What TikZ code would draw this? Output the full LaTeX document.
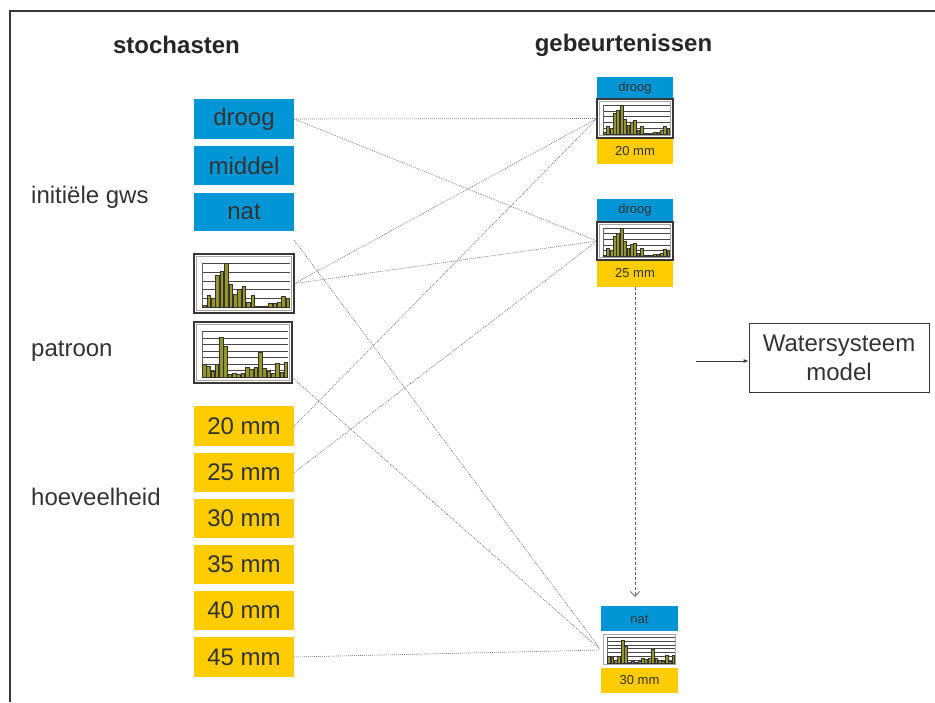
\documentclass[tikz,border=0pt]{standalone}
\usepackage{fontspec}
\setmainfont{Liberation Sans}
\usetikzlibrary{arrows.meta,calc}
\definecolor{stblue}{RGB}{0,150,214}
\definecolor{styellow}{RGB}{255,204,0}
\definecolor{bargreen}{RGB}{150,150,40}
\definecolor{txt}{RGB}{51,51,51}
\definecolor{framec}{RGB}{55,55,55}
\definecolor{gridc}{RGB}{70,70,70}

% #1 x0, #2 y0 (top), #3 x1, #4 y1 (bottom), #5 gridline intervals, #6 data
\newcommand{\barchart}[6]{%
 \pgfmathsetmacro\bcL{#1+0.08*(#3-#1)}%
 \pgfmathsetmacro\bcR{#3-0.04*(#3-#1)}%
 \pgfmathsetmacro\bcT{#2+0.16*(#4-#2)}%
 \pgfmathsetmacro\bcB{#4-0.1*(#4-#2)}%
 \pgfmathsetmacro\bw{(\bcR-\bcL)/20}%
 \draw[innerfr] ({#1+2.5},{#2+2.5}) rectangle ({#3-2.5},{#4-2.5});
 \foreach \k in {1,...,#5} {\draw[gridln] (\bcL,{\bcB-\k*(\bcB-\bcT)/#5}) -- (\bcR,{\bcB-\k*(\bcB-\bcT)/#5});}
 \draw[axisln] (\bcL,\bcT) -- (\bcL,\bcB) -- (\bcR,\bcB);
 \foreach \v [count=\i] in {#6} {\draw[barst] ({\bcL+(\i-1+0.08)*\bw},\bcB) rectangle ({\bcL+(\i-0.08)*\bw},{\bcB-\v/100*(\bcB-\bcT)});}
}

\tikzset{
 big/.style={font=\fontsize{24}{29}\selectfont, text=txt},
 small/.style={font=\fontsize{13}{15}\selectfont, text=txt},
 head/.style={font=\fontsize{24}{29}\selectfont\bfseries, text=black!85},
 bluebox/.style={big, fill=stblue, minimum width=100pt, minimum height=39pt, inner sep=0pt},
 yelbox/.style={big, fill=styellow, minimum width=100pt, minimum height=39pt, inner sep=0pt},
 chartbox/.style={draw=framec, line width=1.2pt, fill=white, inner sep=0pt},
 evblue/.style={small, fill=stblue, minimum width=76pt, inner sep=0pt},
 evyel/.style={small, fill=styellow, minimum width=76pt, inner sep=0pt},
 innerfr/.style={draw=black!35, line width=0.6pt},
 gridln/.style={draw=gridc, line width=0.6pt},
 axisln/.style={draw=black!60, line width=0.5pt},
 barst/.style={fill=bargreen, draw=black!80, line width=0.5pt},
 conn/.style={draw=black!55, line width=0.6pt, dash pattern=on 1pt off 1pt},
 dasharrow/.style={draw=black!60, line width=0.8pt, dash pattern=on 3pt off 2pt, -{Straight Barb[length=5pt,width=9pt]}},
 wbox/.style={big, draw=framec, line width=0.8pt, minimum width=180pt, minimum height=69pt, align=center, inner sep=0pt},
}

\begin{document}
\begin{tikzpicture}[x=1pt,y=-1pt]
\useasboundingbox (0,0) rectangle (935,702);
\draw[framec, line width=2pt] (9.5,702) -- (9.5,11) -- (935,11);

% headings and labels
\node[head] (h1) at (176.5,45) {stochasten};
\node[head] (h2) at (623.5,45) {gebeurtenissen};
\node[big, anchor=west, inner sep=0pt] (l1) at (31,197) {initiële gws};
\node[big, anchor=west, inner sep=0pt] (l2) at (31,351) {patroon};
\node[big, anchor=west, inner sep=0pt] (l3) at (31,497) {hoeveelheid};

% left column
\node[bluebox, minimum height=40pt] (droog) at (244,119) {droog};
\node[bluebox] (middel) at (244,165.5) {middel};
\node[bluebox, minimum height=38pt] (nat) at (244,212) {nat};
\node[yelbox, minimum height=40pt] (y20) at (244,426) {20 mm};
\node[yelbox] (y25) at (244,472.5) {25 mm};
\node[yelbox] (y30) at (244,518.5) {30 mm};
\node[yelbox] (y35) at (244,564.5) {35 mm};
\node[yelbox] (y40) at (244,610.5) {40 mm};
\node[yelbox, minimum height=40pt] (y45) at (244,657) {45 mm};

% event boxes
\node[evblue, minimum height=22pt] (e1t) at (635,88) {droog};
\node[evyel, minimum height=26pt] (e1b) at (635,151) {20 mm};
\node[evblue, minimum height=23pt] (e2t) at (635,210.5) {droog};
\node[evyel, minimum height=27pt] (e2b) at (635,273.5) {25 mm};
\node[evblue, minimum width=77pt, minimum height=26pt] (e3t) at (639.5,619) {nat};
\node[evyel, minimum width=77pt, minimum height=26pt] (e3b) at (639.5,680) {30 mm};

% coordinates of the chart boxes (for connectors)
\coordinate (e1w) at (597,118.5);
\coordinate (e2w) at (597,241);
\coordinate (e3w) at (601,650);

% connectors
\draw[conn] (droog.east) -- (e1w);
\draw[conn] (droog.east) -- (e2w);
\draw[conn] (y20.east) -- (e1w);
\draw[conn] (y25.east) -- (e2w);
\draw[conn] ([yshift=-9pt]nat.south east) -- (e3w);
\draw[conn] (y45.east) -- (e3w);

% charts (left)
\node[chartbox, minimum width=100pt, minimum height=59pt] (hA) at (244,283.5) {};
\barchart{194}{254}{294}{313}{5}{5,28,20,72,82,100,52,30,42,47,12,28,2,3,3,8,8,12,26,20}
\node[chartbox, minimum width=98pt, minimum height=61pt] (hB) at (243,352.5) {};
\barchart{194}{322}{292}{383}{7}{27,23,13,28,88,68,5,7,6,8,22,17,22,55,19,13,8,30,10,33}

\draw[conn] (hA.east) -- (e1w);
\draw[conn] (hA.east) -- (e2w);
\draw[conn] ([yshift=-25.5pt]hB.east) -- (e3w);

% event charts
\node[chartbox, minimum width=76pt, minimum height=39pt] (e1c) at (635,118.5) {};
\barchart{597}{99}{673}{138}{5}{5,28,20,72,82,100,52,30,42,47,12,28,2,3,3,8,8,12,26,20}
\node[chartbox, minimum width=76pt, minimum height=38pt] (e2c) at (635,241) {};
\barchart{597}{222}{673}{260}{5}{5,28,20,72,82,100,52,30,42,47,12,28,2,3,3,8,8,12,26,20}
\node[chartbox, draw=white, minimum width=77pt, minimum height=35pt] (e3c) at (639.5,649.5) {};
\barchart{601}{632}{678}{667}{7}{27,23,13,28,88,68,5,7,6,8,22,17,22,55,19,13,8,30,10,33}

% dashed arrow between events
\coordinate (dend) at (635,597);
\draw[dasharrow] (e2b.south -| dend) -- (dend);

% Watersysteem model
\node[wbox] (wm) at (839,357.5) {Watersysteem\\model};
\coordinate (win) at (696,361);
\draw[draw=framec, line width=0.8pt, -{Latex[length=5pt,width=4pt]}] (win) -- (wm.west |- win);
\end{tikzpicture}
\end{document}
